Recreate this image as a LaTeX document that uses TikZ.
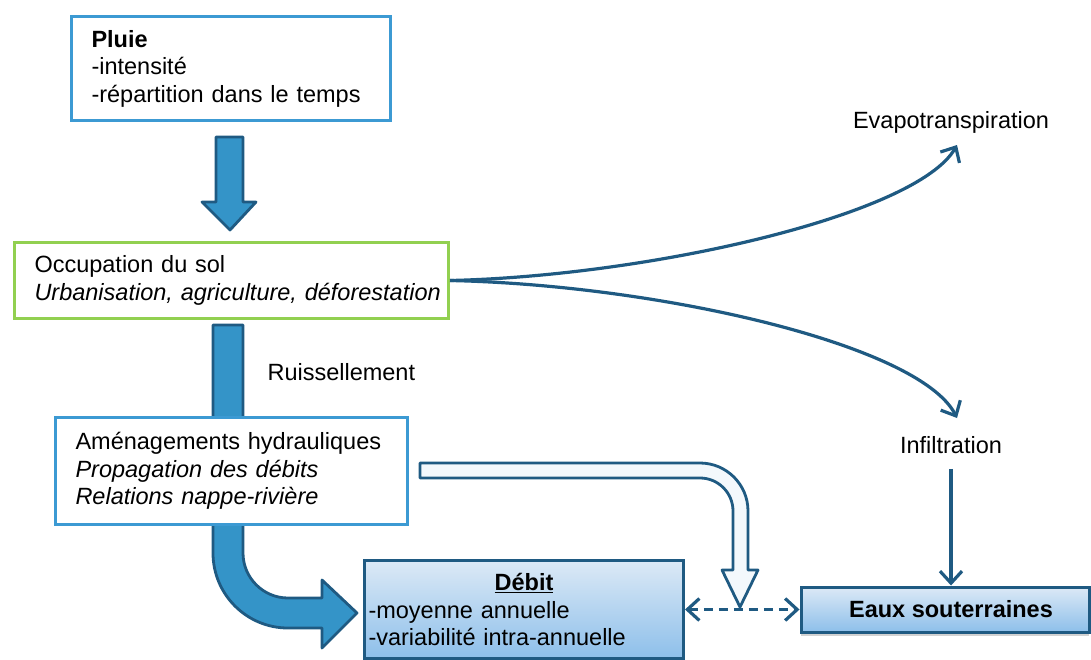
\documentclass[tikz,border=0pt]{standalone}
\usepackage{fontspec}
\setmainfont{Liberation Sans}
\usepackage{tikz}
\usetikzlibrary{arrows.meta,positioning,shadows}
\definecolor{flowblue}{HTML}{1F5A82}
\definecolor{bigfill}{HTML}{3494C8}
\definecolor{rainblue}{HTML}{3C9AD3}
\definecolor{soilgreen}{HTML}{92D050}
\definecolor{gradtop}{HTML}{DCE9F6}
\definecolor{gradbot}{HTML}{8DBFEA}
\definecolor{hollowfill}{HTML}{F3F8FC}

\begin{document}
\begin{tikzpicture}[
  x=1pt, y=-1pt,
  every node/.style={font=\fontsize{23.5}{27.5}\selectfont},
  infobox/.style={draw, line width=3pt, fill=white, anchor=north west, align=left, inner xsep=20pt, inner ysep=0pt},
  resultbox/.style={draw=flowblue, line width=3pt, top color=gradtop, bottom color=gradbot, align=left},
  flow/.style={-{Straight Barb[length=12pt,width=22pt]}, line width=3.2pt, flowblue},
  bigarrow/.style={fill=bigfill, draw=flowblue, line width=2.8pt, line join=round},
  hollowarrow/.style={fill=hollowfill, draw=flowblue, line width=2.8pt, line join=round}
]
\useasboundingbox (0,0) rectangle (1091,659);
\draw[bigarrow] (213,325) -- (213,553) .. controls (213,594.4) and (246.6,628) .. (288,628) -- (322,628) -- (322,648) -- (357,613) -- (322,580) -- (322,598) -- (288,598) .. controls (263.2,598) and (243,577.8) .. (243,553) -- (243,325) -- cycle;
\node[infobox, draw=rainblue, text width=279pt, minimum height=104pt] (pluie) at (70,15) {\textbf{Pluie}\\-intensité\\-répartition dans le temps};
\node[infobox, draw=soilgreen, text width=394pt, minimum height=76pt] (occ) at (13,241) {Occupation du sol\\\mbox{\textit{Urbanisation, agriculture, déforestation}}};
\node[infobox, draw=rainblue, text width=312pt, minimum height=107pt] (amenag) at (54,416) {Aménagements hydrauliques\\\textit{Propagation des débits}\\\textit{Relations nappe-rivière}};
\node[resultbox, anchor=north west, text width=311pt, inner xsep=4pt, minimum height=98pt] (debit) at (363,559) {{\centering\textbf{\underline{Débit}}\par}\raggedright -moyenne annuelle\\-variabilité intra-annuelle};
\node[resultbox, drop shadow={shadow xshift=0pt, shadow yshift=-4pt, fill=black!35}, minimum width=288pt, minimum height=45pt, inner sep=0pt] (eaux) at (945,609.5) {\hspace{12pt}\textbf{Eaux souterraines}};
\node[anchor=base west] (ruiss) at (264,380) {Ruissellement};
\node[anchor=base] (evap) at (951,128) {Evapotranspiration};
\node[anchor=base] (infil) at (951,453) {Infiltration};
\coordinate (evaptip) at (957,145);
\coordinate (infiltip) at (957,418);
\draw[bigarrow] (216,137) -- (243,137) -- (243,202) -- (256,202) -- (230,230) -- (202,202) -- (216,202) -- cycle;
\draw[hollowarrow] (420,463) -- (700,463) .. controls (726.5,463) and (748,484.5) .. (748,511) -- (748,570) -- (758,570) -- (740,607) -- (722,570) -- (733,570) -- (733,511) .. controls (733,492.8) and (718.2,478) .. (700,478) -- (420,478) -- cycle;
\draw[flow] (occ.east) .. controls (650,276) and (917,215) .. (evaptip);
\draw[flow] (occ.east) .. controls (660,285) and (920,345) .. (infiltip);
\draw[flow, shorten <=12pt] (infil.south) -- (infil.south |- eaux.north);
\draw[flow, {Straight Barb[length=12pt,width=22pt]}-{Straight Barb[length=12pt,width=22pt]}, dash pattern=on 9pt off 6pt] (eaux.west -| debit.east) -- (eaux.west);
\end{tikzpicture}
\end{document}
